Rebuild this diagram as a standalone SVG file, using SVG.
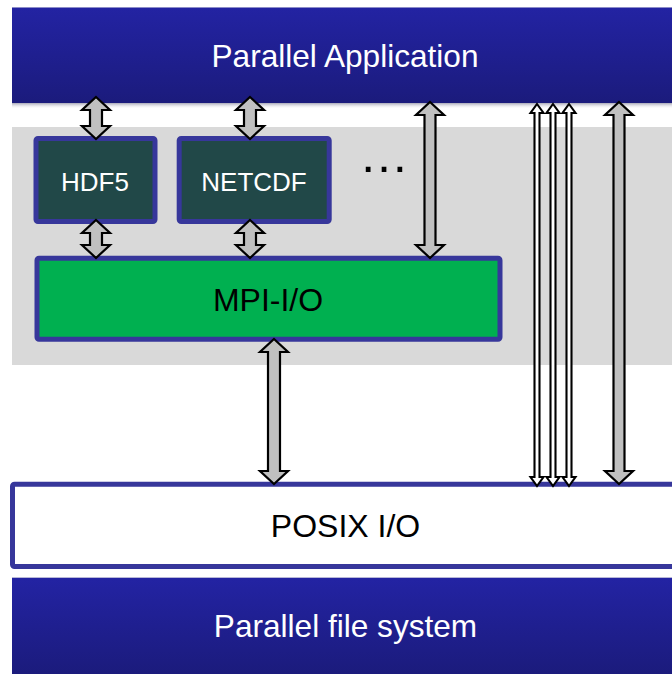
<svg xmlns="http://www.w3.org/2000/svg" width="672" height="674" viewBox="0 0 672 674">
<defs>
<linearGradient id="blueGrad" x1="0" y1="0" x2="0" y2="1">
<stop offset="0" stop-color="#2323a3"/>
<stop offset="1" stop-color="#1b1b7c"/>
</linearGradient>
<linearGradient id="shadow" x1="0" y1="0" x2="0" y2="1">
<stop offset="0" stop-color="#a8a8b8"/>
<stop offset="1" stop-color="#ffffff" stop-opacity="0"/>
</linearGradient>
<style>
.lbl{font-family:"Liberation Sans",Arial,sans-serif;text-anchor:middle}
.w{fill:#ffffff}
.k{fill:#000000}
.lib{fill:#214848;stroke:#37379b;stroke-width:5}
.arr{fill:#c0c0c0;stroke:#000000;stroke-width:2.2;stroke-linejoin:miter}
.thin{fill:#ffffff;stroke:#000000;stroke-width:2.1;stroke-linejoin:miter}
</style>
</defs>
<rect width="672" height="674" fill="#ffffff"/>

<g id="software-layer">
<rect x="12" y="127" width="660" height="238" fill="#d9d9d9"/>
</g>

<g id="parallel-application">
<rect x="12" y="103" width="660" height="6" fill="url(#shadow)"/>
<rect x="12" y="7" width="660" height="96" fill="url(#blueGrad)"/>
<line x1="12" y1="7.5" x2="672" y2="7.5" stroke="#8c8cc8" stroke-width="1"/>
<text class="lbl w" x="345" y="67" font-size="31.6">Parallel Application</text>
</g>

<g id="hdf5">
<rect class="lib" x="36" y="138.5" width="119" height="83" rx="2"/>
<text class="lbl w" x="95" y="191" font-size="26">HDF5</text>
</g>

<g id="netcdf">
<rect class="lib" x="179.2" y="138.5" width="150" height="83" rx="2"/>
<text class="lbl w" x="254" y="191" font-size="26">NETCDF</text>
</g>

<g id="ellipsis">
<text class="lbl k" x="384" y="172" font-size="50">…</text>
</g>

<g id="mpi-io">
<rect x="37" y="258.2" width="463" height="81" rx="2" fill="#00b050" stroke="#37379b" stroke-width="5"/>
<text class="lbl k" x="268" y="311" font-size="32">MPI-I/O</text>
</g>

<g id="posix-io">
<rect x="12.5" y="484.2" width="664" height="82.3" rx="2" fill="#ffffff" stroke="#37379b" stroke-width="5"/>
<text class="lbl k" x="345.5" y="537" font-size="32">POSIX I/O</text>
</g>

<g id="parallel-file-system">
<rect x="12" y="578" width="660" height="96" fill="url(#blueGrad)"/>
<line x1="12" y1="577.5" x2="672" y2="577.5" stroke="#b8b8d8" stroke-width="1"/>
<text class="lbl w" x="345.5" y="637" font-size="31.6">Parallel file system</text>
</g>

<g id="connectors">
<path class="arr" d="M96,97 L110,110 L102,110 L102,126 L110,126 L96,139 L82,126 L90,126 L90,110 L82,110 Z"/>
<path class="arr" d="M250,97 L264,110 L256,110 L256,126 L264,126 L250,139 L236,126 L244,126 L244,110 L236,110 Z"/>
<path class="arr" d="M96,220 L110,233 L102,233 L102,245 L110,245 L96,258 L82,245 L90,245 L90,233 L82,233 Z"/>
<path class="arr" d="M250,220 L264,233 L256,233 L256,245 L264,245 L250,258 L236,245 L244,245 L244,233 L236,233 Z"/>
<path class="arr" d="M430,102 L444,115 L435.5,115 L435.5,245 L444,245 L430,258 L416,245 L424.5,245 L424.5,115 L416,115 Z"/>
<path class="arr" d="M274,339 L288,352 L280,352 L280,471 L288,471 L274,484 L260,471 L268,471 L268,352 L260,352 Z"/>
<path class="arr" d="M619,102 L633,115 L624.5,115 L624.5,471 L633,471 L619,484 L605,471 L613.5,471 L613.5,115 L605,115 Z"/>
<path class="thin" d="M537,104 L543.5,113 L539.5,113 L539.5,477 L543.5,477 L537,486 L530.5,477 L534.5,477 L534.5,113 L530.5,113 Z"/>
<path class="thin" d="M553,104 L559.5,113 L555.5,113 L555.5,477 L559.5,477 L553,486 L546.5,477 L550.5,477 L550.5,113 L546.5,113 Z"/>
<path class="thin" d="M569,104 L575.5,113 L571.5,113 L571.5,477 L575.5,477 L569,486 L562.5,477 L566.5,477 L566.5,113 L562.5,113 Z"/>
</g>
</svg>
